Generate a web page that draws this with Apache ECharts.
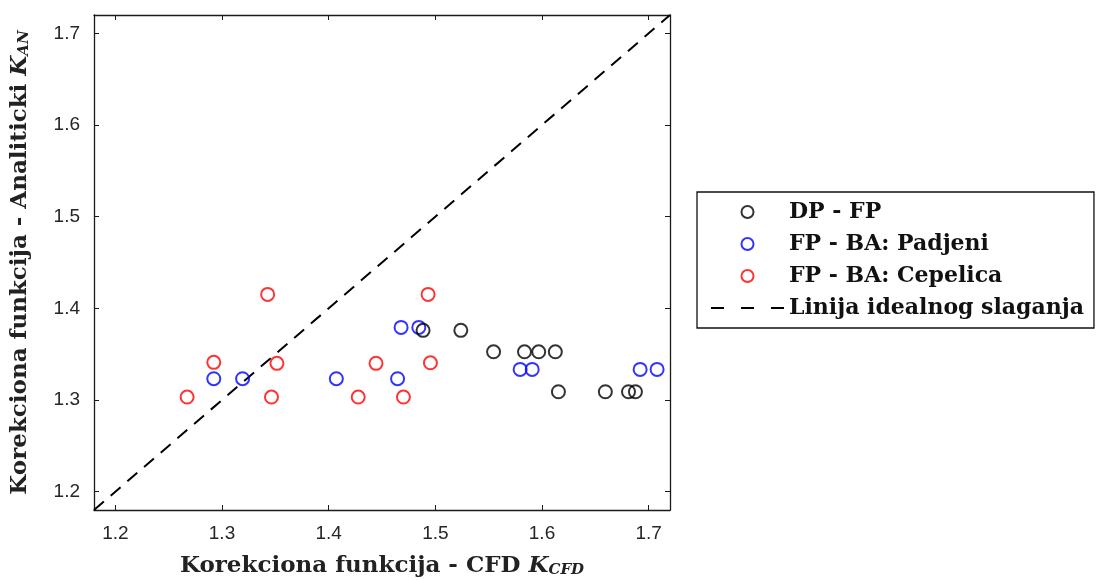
<!DOCTYPE html>
<html>
<head>
<meta charset="utf-8">
<script src="https://cdn.jsdelivr.net/npm/echarts@6/dist/echarts.min.js"></script>
<style>html,body{margin:0;padding:0;background:#fff;}#c{width:1097px;height:580px;}</style>
</head>
<body>
<div id="c"></div>
<script>
// Axis range and tick labels
const axisMin = 1.18;
const axisMax = 1.72;
const tickValues = [1.2, 1.3, 1.4, 1.5, 1.6, 1.7];

// DP - FP (black)
const dpfpX = [1.4885, 1.5239, 1.5546, 1.5836, 1.5969, 1.6125, 1.6154, 1.6594, 1.6811, 1.6876];
const dpfpY = [1.376, 1.376, 1.3526, 1.3526, 1.3526, 1.3526, 1.309, 1.309, 1.309, 1.309];

// FP - BA: Padjeni (blue)
const padjeniX = [1.4679, 1.4845, 1.2923, 1.3193, 1.4072, 1.4646, 1.5795, 1.5908, 1.692, 1.7079];
const padjeniY = [1.3792, 1.3792, 1.3232, 1.3232, 1.3232, 1.3232, 1.3334, 1.3334, 1.3334, 1.3334];

// FP - BA: Cepelica (red)
const cepelicaX = [1.3428, 1.4932, 1.2923, 1.3515, 1.4444, 1.4954, 1.2673, 1.3464, 1.4277, 1.4701];
const cepelicaY = [1.4152, 1.4152, 1.3411, 1.34, 1.34, 1.3406, 1.3032, 1.3032, 1.3032, 1.3032];

// Ideal agreement line
const idealX = [1.18, 1.72];
const idealY = [1.18, 1.72];

const zip = (a, b) => a.map((v, i) => [v, b[i]]);

const serif = "'DejaVu Serif', serif";
const sans = "'Liberation Sans', Arial, sans-serif";

function mkAxis(pos, isX, main) {
  return {
    type: 'value',
    position: pos,
    min: axisMin,
    max: axisMax,
    splitLine: { show: false },
    axisLine: { show: true, onZero: false, lineStyle: { color: '#1a1a1a', width: 1.3 } },
    axisTick: { show: true, inside: true, length: 5, customValues: tickValues, lineStyle: { color: '#1a1a1a', width: 1 } },
    axisLabel: main ? {
      show: true, customValues: tickValues, fontFamily: sans, fontSize: 19, color: '#262626',
      margin: 14, formatter: v => (Math.round(v * 10) / 10).toFixed(1)
    } : { show: false }
  };
}

const titleRich = {
  n: { fontFamily: serif, fontWeight: 'bold', fontSize: 23, color: '#222' },
  k: { fontFamily: serif, fontStyle: 'italic', fontWeight: 'bold', fontSize: 23, color: '#222' },
  s: { fontFamily: serif, fontStyle: 'italic', fontWeight: 'bold', fontSize: 15, color: '#222', padding: [9, 0, 0, 0] }
};

const xMain = mkAxis('bottom', true, true);
xMain.name = '{n|Korekciona funkcija - CFD }{k|K}{s|CFD}';
xMain.nameLocation = 'middle';
xMain.nameGap = 44;
xMain.nameTextStyle = { rich: titleRich };
const yMain = mkAxis('left', false, true);
yMain.name = '{n|Korekciona funkcija - Analiticki }{k|K}{s|AN}';
yMain.nameLocation = 'middle';
yMain.nameGap = 62;
yMain.nameTextStyle = { rich: titleRich };

const circleStyle = c => ({ color: 'rgba(0,0,0,0)', borderColor: c, borderWidth: 2 });

const option = {
  backgroundColor: '#fff',
  animation: false,
  grid: { left: 94, right: 427, top: 15, bottom: 70, containLabel: false, outerBoundsMode: 'none' },
  xAxis: [xMain, mkAxis('top', true, false)],
  yAxis: [yMain, mkAxis('right', false, false)],
  legend: {
    left: 697,
    top: 192,
    orient: 'vertical',
    backgroundColor: '#fff',
    borderColor: '#111',
    borderWidth: 1.3,
    borderRadius: 0,
    padding: [9, 10, 9, 13],
    itemWidth: 73,
    itemHeight: 12,
    itemGap: 10,
    textStyle: { fontFamily: serif, fontWeight: 'bold', fontSize: 22, color: '#111', lineHeight: 22 },
    data: [
      'DP - FP', 'FP - BA: Padjeni', 'FP - BA: Cepelica',
      { name: 'Linija idealnog slaganja', itemStyle: { opacity: 0 }, lineStyle: { type: [13, 17], width: 2, color: '#000' } }
    ]
  },
  series: [
    {
      name: 'Linija idealnog slaganja', type: 'line', data: zip(idealX, idealY),
      showSymbol: false, symbol: 'none', silent: true,
      itemStyle: { color: '#000' },
      lineStyle: { color: '#000', width: 2, type: [13, 9] }, z: 1
    },
    { name: 'DP - FP', type: 'scatter', data: zip(dpfpX, dpfpY), symbol: 'circle', symbolSize: 13, itemStyle: circleStyle('#000'), z: 3 },
    { name: 'FP - BA: Padjeni', type: 'scatter', data: zip(padjeniX, padjeniY), symbol: 'circle', symbolSize: 13, itemStyle: circleStyle('#0000ff'), z: 2 },
    { name: 'FP - BA: Cepelica', type: 'scatter', data: zip(cepelicaX, cepelicaY), symbol: 'circle', symbolSize: 13, itemStyle: circleStyle('#ff0000'), z: 2 }
  ]
};

const chart = echarts.init(document.getElementById('c'), null, { renderer: 'canvas' });
chart.setOption(option);
</script>
</body>
</html>
